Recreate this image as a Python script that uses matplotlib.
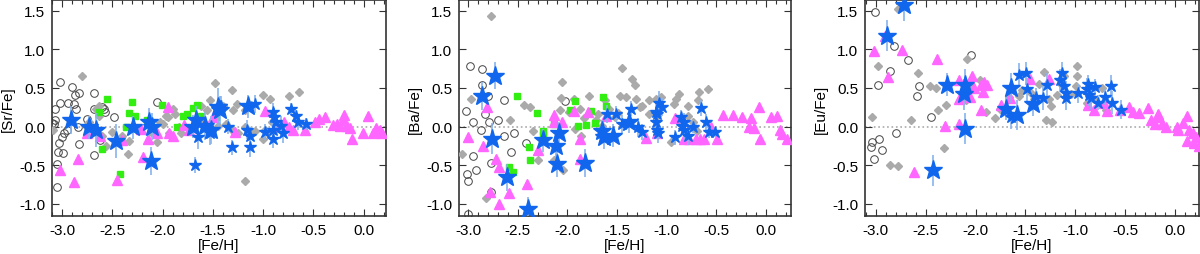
import numpy as np
import matplotlib
matplotlib.use("Agg")
from matplotlib import pyplot as plt
from matplotlib.ticker import MultipleLocator

plt.rcParams['font.family'] = ['Liberation Sans', 'DejaVu Sans']

# ---------------- [Sr/Fe] ----------------
sr_circ_x = [-3.02, -2.90, -2.83, -2.87, -2.68, -3.02, -2.94, -2.88, -2.86, -2.68, -2.58, -2.57,
             -3.07, -3.07, -3.08, -2.84, -2.75, -2.48, -2.98, -3.00, -3.03, -3.04, -2.99, -2.83,
             -2.62, -2.68, -3.05, -3.05, -2.06, -3.10, -2.60, -2.95]
sr_circ_y = [0.58, 0.51, 0.44, 0.41, 0.43, 0.31, 0.31, 0.29, 0.23, 0.23, 0.23, 0.19,
             0.23, 0.08, 0.03, 0.00, 0.10, 0.12, -0.09, -0.14, -0.21, -0.33, -0.34, -0.23,
             -0.18, -0.37, -0.49, -0.78, 0.32, 0.05, 0.25, -0.05]

sr_dia_x = [-2.80, -1.48, -1.31, -1.00, -0.74, -0.64, -1.53, -1.62, -1.56, -1.40, -1.26, -1.30,
            -1.18, -1.12, -0.93, -1.90, -1.97, -2.00, -2.03, -1.88, -1.95, -1.84, -1.82, -1.94,
            -2.12, -2.06, -2.33, -2.34, -2.40, -2.50, -2.60, -2.56, -2.63, -2.66, -2.63, -2.73,
            -3.09, -2.76, -2.66, -1.58, -1.45, -1.37, -1.18, -1.08, -0.98, -0.91, -0.88, -1.51,
            -1.18, -1.00, -0.95, -1.60, -1.30, -1.25, -1.15]
sr_dia_y = [0.66, 0.56, 0.47, 0.41, 0.40, 0.45, 0.35, 0.27, 0.21, 0.27, 0.29, 0.21,
            0.21, 0.28, 0.36, 0.23, 0.14, 0.03, 0.06, 0.16, 0.12, 0.00, -0.09, -0.08,
            -0.07, -0.20, -0.19, -0.35, -0.12, -0.07, -0.12, -0.25, 0.27, 0.23, 0.14, 0.06,
            -0.05, 0.01, -0.07, 0.00, 0.01, 0.03, 0.00, -0.06, -0.05, 0.06, -0.05, -0.03,
            -0.70, -0.16, -0.09, 0.06, -0.06, -0.09, -0.09]

sr_sq_x = [-2.55, -2.30, -2.33, -2.63, -2.27, -2.36, -2.01, -1.70, -1.66, -1.80, -1.76, -1.86,
           -1.47, -2.60, -2.42, -2.16, -1.62]
sr_sq_y = [0.36, 0.32, 0.18, 0.19, 0.14, -0.01, 0.28, 0.24, 0.28, 0.13, 0.16, -0.01,
           0.12, -0.29, -0.61, 0.09, 0.14]

sr_tri_x = [-3.02, -2.88, -2.84, -2.45, -2.19, -2.75, -2.62, -2.21, -2.15, -2.06, -1.95, -1.94,
            -1.90, -2.40, -1.79, -1.74, -1.50, -1.28, -0.98, -0.87, -0.79, -0.74, -0.70, -0.58,
            -0.49, -0.45, -0.39, -0.31, -0.27, -0.24, -0.20, -0.21, -0.17, -0.14, -0.12, -0.01,
            0.04, 0.09, 0.12, 0.18, 0.16]
sr_tri_y = [-0.57, -0.72, -0.42, -0.69, -0.40, -0.09, -0.12, -0.03, -0.16, -0.09, 0.25, -0.09,
            -0.12, -0.18, 0.02, -0.05, 0.12, -0.07, 0.20, 0.01, 0.06, -0.01, -0.05, -0.05,
            0.06, 0.10, 0.12, 0.02, 0.03, 0.01, 0.15, 0.08, 0.01, -0.02, -0.16, -0.09,
            0.13, -0.08, -0.02, -0.08, -0.05]

sr_big_x = [-2.91, -2.73, -2.66, -2.46, -2.29, -2.14, -2.11, -2.12, -1.67, -1.70, -1.58, -1.52,
            -1.45, -1.43, -1.15]
sr_big_y = [0.08, -0.01, -0.04, -0.19, -0.01, 0.06, 0.00, -0.45, 0.09, 0.00, 0.01, -0.05,
            0.25, 0.21, 0.26]
sr_big_e = [0.18, 0.15, 0.22, 0.22, 0.15, 0.18, 0.18, 0.18, 0.18, 0.15, 0.18, 0.18,
            0.25, 0.18, 0.15]

sr_small_x = [-1.68, -1.65, -1.53, -1.35, -1.31, -1.16, -1.13, -1.13, -0.98, -0.90, -0.89, -0.90,
              -0.90, -0.82, -0.80, -0.72, -0.67, -0.65, -0.57, -1.42, -1.08, -0.87]
sr_small_y = [-0.50, -0.14, -0.09, 0.00, -0.27, -0.04, -0.12, -0.27, -0.07, 0.19, 0.12, -0.04,
              -0.16, 0.01, -0.09, 0.23, 0.13, 0.06, 0.03, 0.27, 0.29, 0.06]
sr_small_e = [0.10, 0.15, 0.15, 0.10, 0.10, 0.12, 0.12, 0.12, 0.10, 0.12, 0.12, 0.12,
              0.12, 0.12, 0.12, 0.08, 0.08, 0.10, 0.08, 0.12, 0.12, 0.12]

# ---------------- [Ba/Fe] ----------------
ba_circ_x = [-2.98, -2.86, -2.86, -2.83, -2.80, -3.02, -2.95, -2.87, -2.79, -2.70, -2.64, -2.64,
             -2.54, -2.57, -2.95, -2.92, -3.01, -3.00, -3.00, -2.77, -2.77, -2.42, -2.02]
ba_circ_y = [0.78, 0.74, 0.54, 0.16, 0.40, 0.20, 0.06, -0.05, 0.06, 0.08, 0.34, -0.12,
             -0.09, -0.33, -0.38, -0.57, -0.61, -0.70, -1.13, -0.47, -0.85, -0.22, 0.33]

ba_dia_x = [-2.77, -3.06, -2.97, -2.82, -2.58, -2.44, -2.38, -2.35, -2.30, -2.06, -2.05, -2.07,
            -1.98, -1.93, -1.87, -1.83, -1.78, -1.86, -1.92, -2.04, -2.13, -1.62, -1.58, -1.45,
            -1.47, -1.41, -1.35, -1.32, -1.31, -1.25, -1.27, -1.18, -1.11, -1.06, -0.91, -0.93,
            -0.88, -0.79, -0.68, -0.59, -0.69, -0.79, -1.10, -1.18, -1.52, -1.49, -1.69, -1.71,
            -1.65, -0.96, -0.74, -0.70]
ba_dia_y = [1.43, -0.35, 0.36, -0.93, 0.08, 0.28, 0.25, -0.06, -0.43, 0.37, 0.58, 0.21,
            0.19, 0.36, 0.23, 0.11, 0.40, -0.12, -0.03, -0.56, -0.44, 0.35, 0.23, 0.76,
            0.40, 0.38, 0.62, 0.54, 0.36, 0.27, 0.25, 0.35, 0.36, 0.38, 0.36, 0.29,
            0.42, 0.27, 0.45, 0.49, 0.34, 0.14, 0.14, 0.16, 0.12, 0.18, 0.16, 0.08,
            0.01, -0.20, 0.06, -0.06]

ba_sq_x = [-2.51, -2.31, -2.39, -2.38, -2.25, -2.25, -2.59, -2.55, -2.13, -1.97, -1.92, -1.89,
           -1.81, -1.76, -1.72, -1.64, -1.61]
ba_sq_y = [0.39, 0.18, -0.27, -0.44, -0.06, -0.11, -0.53, -0.59, 0.03, 0.22, 0.33, 0.01,
           0.02, 0.20, 0.04, 0.38, 0.27]

ba_tri_x = [-2.81, -3.00, -2.85, -2.72, -2.69, -2.78, -2.69, -2.59, -2.41, -2.30, -2.13, -2.13,
            -2.05, -1.93, -1.87, -1.87, -1.79, -1.61, -1.21, -1.10, -0.92, -0.83, -0.78, -0.71,
            -0.67, -0.63, -0.56, -0.49, -0.43, -0.33, -0.24, -0.17, -0.15, -0.12, -0.06, -0.07,
            0.05, 0.11, 0.14, 0.16, 0.21]
ba_tri_y = [0.25, -0.13, -0.25, -0.42, -0.53, -0.85, -1.01, -0.86, -0.75, -0.31, 0.15, 0.06,
            0.06, 0.20, -0.16, -0.42, 0.19, 0.14, -0.15, -0.09, 0.11, -0.16, -0.16, -0.16,
            -0.16, -0.16, -0.01, -0.16, 0.15, 0.15, 0.12, -0.01, 0.11, -0.02, -0.16, 0.25,
            0.12, 0.13, -0.05, -0.10, -0.16]

ba_big_x = [-2.86, -2.73, -2.76, -2.61, -2.40, -2.25, -2.11, -2.08, -2.10, -1.82, -1.65, -1.63,
            -1.54, -1.38]
ba_big_y = [0.40, 0.66, -0.16, -0.66, -1.07, -0.18, -0.25, -0.09, -0.48, -0.47, -0.06, -0.14,
            -0.12, 0.06]
ba_big_e = [0.18, 0.18, 0.20, 0.18, 0.15, 0.15, 0.15, 0.15, 0.18, 0.18, 0.15, 0.15,
            0.15, 0.15]

ba_small_x = [-1.60, -1.51, -1.45, -1.36, -1.29, -1.25, -1.11, -1.08, -1.05, -1.10, -1.10, -1.09,
              -1.11, -0.92, -0.86, -0.85, -0.83, -0.79, -0.74, -0.66, -0.61, -0.58, -0.51, -0.83]
ba_small_y = [0.16, 0.16, 0.03, 0.23, -0.01, -0.07, 0.19, 0.31, 0.25, 0.16, -0.04, -0.09,
              0.06, -0.14, 0.12, 0.01, -0.05, -0.12, -0.01, 0.24, 0.06, -0.07, -0.07, 0.06]
ba_small_e = [0.12, 0.10, 0.12, 0.10, 0.12, 0.10, 0.12, 0.15, 0.12, 0.12, 0.12, 0.12,
              0.12, 0.10, 0.10, 0.12, 0.12, 0.12, 0.08, 0.10, 0.10, 0.08, 0.06, 0.12]

# ---------------- [Eu/Fe] ----------------
eu_circ_x = [-3.01, -2.82, -2.86, -2.98, -2.68, -2.57, -2.59, -2.45, -2.80, -3.04, -3.05, -2.97,
             -2.94, -3.02, -2.05]
eu_circ_y = [1.49, 1.05, 0.72, 0.54, 0.86, 0.52, 0.40, 0.12, -0.09, -0.20, -0.26, -0.16,
             -0.31, -0.42, 0.93]

eu_dia_x = [-2.78, -2.98, -3.04, -2.86, -2.78, -2.65, -2.58, -2.46, -2.40, -2.38, -2.30, -2.32,
            -2.09, -2.10, -2.06, -1.96, -1.90, -1.81, -1.76, -1.67, -1.56, -1.53, -1.44, -1.41,
            -1.36, -1.31, -1.26, -1.24, -1.29, -1.23, -1.18, -1.14, -1.11, -1.04, -0.98, -0.98,
            -0.99, -0.88, -0.81, -0.73, -0.69]
eu_dia_y = [1.53, 0.79, 0.12, -0.50, -0.51, 0.08, 0.69, 0.52, 0.50, 0.22, 0.28, -0.28,
            0.88, 0.34, 0.53, 0.60, 0.19, 0.11, 0.23, 0.38, 0.40, 0.47, 0.43, 0.36,
            0.55, 0.71, 0.36, 0.27, 0.08, 0.06, 0.41, 0.55, 0.66, 0.42, 0.79, 0.65,
            0.53, 0.31, 0.36, 0.50, 0.21]

eu_tri_x = [-3.02, -2.88, -2.91, -2.74, -2.39, -2.31, -2.62, -2.17, -2.17, -2.17, -2.06, -2.04,
            -2.02, -1.95, -1.92, -1.93, -1.89, -1.95, -1.75, -1.66, -1.45, -1.26, -0.87, -0.81,
            -0.68, -0.71, -0.55, -0.46, -0.42, -0.36, -0.27, -0.24, -0.20, -0.17, -0.16, -0.13,
            -0.09, 0.02, 0.03, 0.08, 0.12, 0.14, 0.18, 0.21, 0.24, 0.12, 0.19]
eu_tri_y = [0.98, 0.64, 1.17, 0.99, 0.88, 0.01, -0.59, 0.60, 0.36, 0.03, 0.38, 0.65,
            0.50, 0.54, 0.58, 0.45, 0.54, 0.21, 0.28, 0.37, 0.62, 0.62, 0.28, 0.21,
            0.20, 0.31, 0.22, 0.25, 0.19, 0.18, 0.24, 0.09, 0.03, 0.16, 0.12, 0.03,
            -0.01, -0.01, -0.04, 0.05, 0.14, -0.05, -0.09, -0.13, -0.25, -0.19, -0.21]

eu_big_x = [-2.72, -2.89, -2.29, -2.11, -2.12, -2.11, -2.43, -1.70, -1.65, -1.58, -1.42]
eu_big_y = [1.57, 1.18, 0.54, 0.54, 0.42, -0.03, -0.57, 0.23, 0.50, 0.15, 0.29]
eu_big_e = [0.20, 0.20, 0.15, 0.20, 0.20, 0.20, 0.20, 0.15, 0.20, 0.20, 0.15]

eu_small_x = [-1.65, -1.56, -1.49, -1.48, -1.39, -1.32, -1.28, -1.15, -1.13, -1.11, -1.09, -1.09,
              -0.97, -0.88, -0.86, -0.84, -0.80, -0.77, -0.70, -0.64, -0.63, -0.54, -0.87]
eu_small_y = [0.12, 0.67, 0.69, 0.48, 0.38, 0.37, 0.54, 0.60, 0.69, 0.52, 0.44, 0.37,
              0.43, 0.48, 0.41, 0.37, 0.51, 0.31, 0.38, 0.52, 0.31, 0.22, 0.55]
eu_small_e = [0.15, 0.15, 0.15, 0.15, 0.12, 0.15, 0.15, 0.15, 0.15, 0.15, 0.15, 0.15,
              0.12, 0.15, 0.15, 0.15, 0.10, 0.10, 0.10, 0.15, 0.15, 0.12, 0.12]

panels = [
    ("[Sr/Fe]", sr_circ_x, sr_circ_y, sr_dia_x, sr_dia_y, sr_sq_x, sr_sq_y, sr_tri_x, sr_tri_y,
     sr_big_x, sr_big_y, sr_big_e, sr_small_x, sr_small_y, sr_small_e),
    ("[Ba/Fe]", ba_circ_x, ba_circ_y, ba_dia_x, ba_dia_y, ba_sq_x, ba_sq_y, ba_tri_x, ba_tri_y,
     ba_big_x, ba_big_y, ba_big_e, ba_small_x, ba_small_y, ba_small_e),
    ("[Eu/Fe]", eu_circ_x, eu_circ_y, eu_dia_x, eu_dia_y, [], [], eu_tri_x, eu_tri_y,
     eu_big_x, eu_big_y, eu_big_e, eu_small_x, eu_small_y, eu_small_e),
]

fig = plt.figure(figsize=(12, 2.55), dpi=100)
boxes = [[0.0433, 0.149, 0.2783, 0.847],
         [0.3825, 0.149, 0.2767, 0.847],
         [0.7208, 0.149, 0.2783, 0.847]]
xlims = [(-3.1, 0.22), (-3.09, 0.25), (-3.11, 0.24)]

star_col = "#1166ee"
err_col = "#88b4ee"

for box, xl, p in zip(boxes, xlims, panels):
    (ylab, cx, cy, dx, dy, qx, qy, tx, ty, bx, by, be, sx, sy, se) = p
    ax = fig.add_axes(box)
    ax.axhline(0, color="#aaaaaa", ls=":", lw=1.2, zorder=1)

    ax.plot(cx, cy, "o", ms=5.5, mfc="none", mec="#444444", mew=0.7, ls="none", zorder=2)
    ax.plot(dx, dy, "D", ms=4.5, color="#aaaaaa", ls="none", zorder=3)
    if qx:
        ax.plot(qx, qy, "s", ms=4, color="#33ee11", ls="none", zorder=4)
    ax.plot(tx, ty, "^", ms=6.5, color="#ff66ff", ls="none", zorder=5)

    ax.errorbar(sx, sy, yerr=se, fmt="none", ecolor=err_col, elinewidth=1.2, zorder=6)
    ax.errorbar(bx, by, yerr=be, fmt="none", ecolor=err_col, elinewidth=1.2, zorder=6)
    ax.plot(sx, sy, "*", ms=9, color=star_col, ls="none", zorder=7)
    ax.plot(bx, by, "*", ms=14, color=star_col, ls="none", zorder=8)

    ax.set_xlim(*xl)
    ax.set_ylim(-1.16, 1.64)
    ax.xaxis.set_major_locator(MultipleLocator(0.5))
    ax.xaxis.set_minor_locator(MultipleLocator(0.1))
    ax.yaxis.set_major_locator(MultipleLocator(0.5))
    ax.tick_params(which="both", direction="in", top=True, right=True,
                   labelsize=11, width=0.8, color="#333333")
    ax.tick_params(which="major", length=5, pad=5)
    ax.tick_params(which="minor", length=3)
    ax.xaxis.set_major_formatter(plt.FuncFormatter(lambda v, _: f"{v:.1f}"))
    ax.yaxis.set_major_formatter(plt.FuncFormatter(lambda v, _: f"{v:.1f}"))
    for s in ax.spines.values():
        s.set_linewidth(1.2)
        s.set_color("#333333")
    ax.set_xlabel("[Fe/H]", fontsize=11, labelpad=1)
    ax.set_ylabel(ylab, fontsize=11, labelpad=3)

fig.savefig("out.png", dpi=100)
